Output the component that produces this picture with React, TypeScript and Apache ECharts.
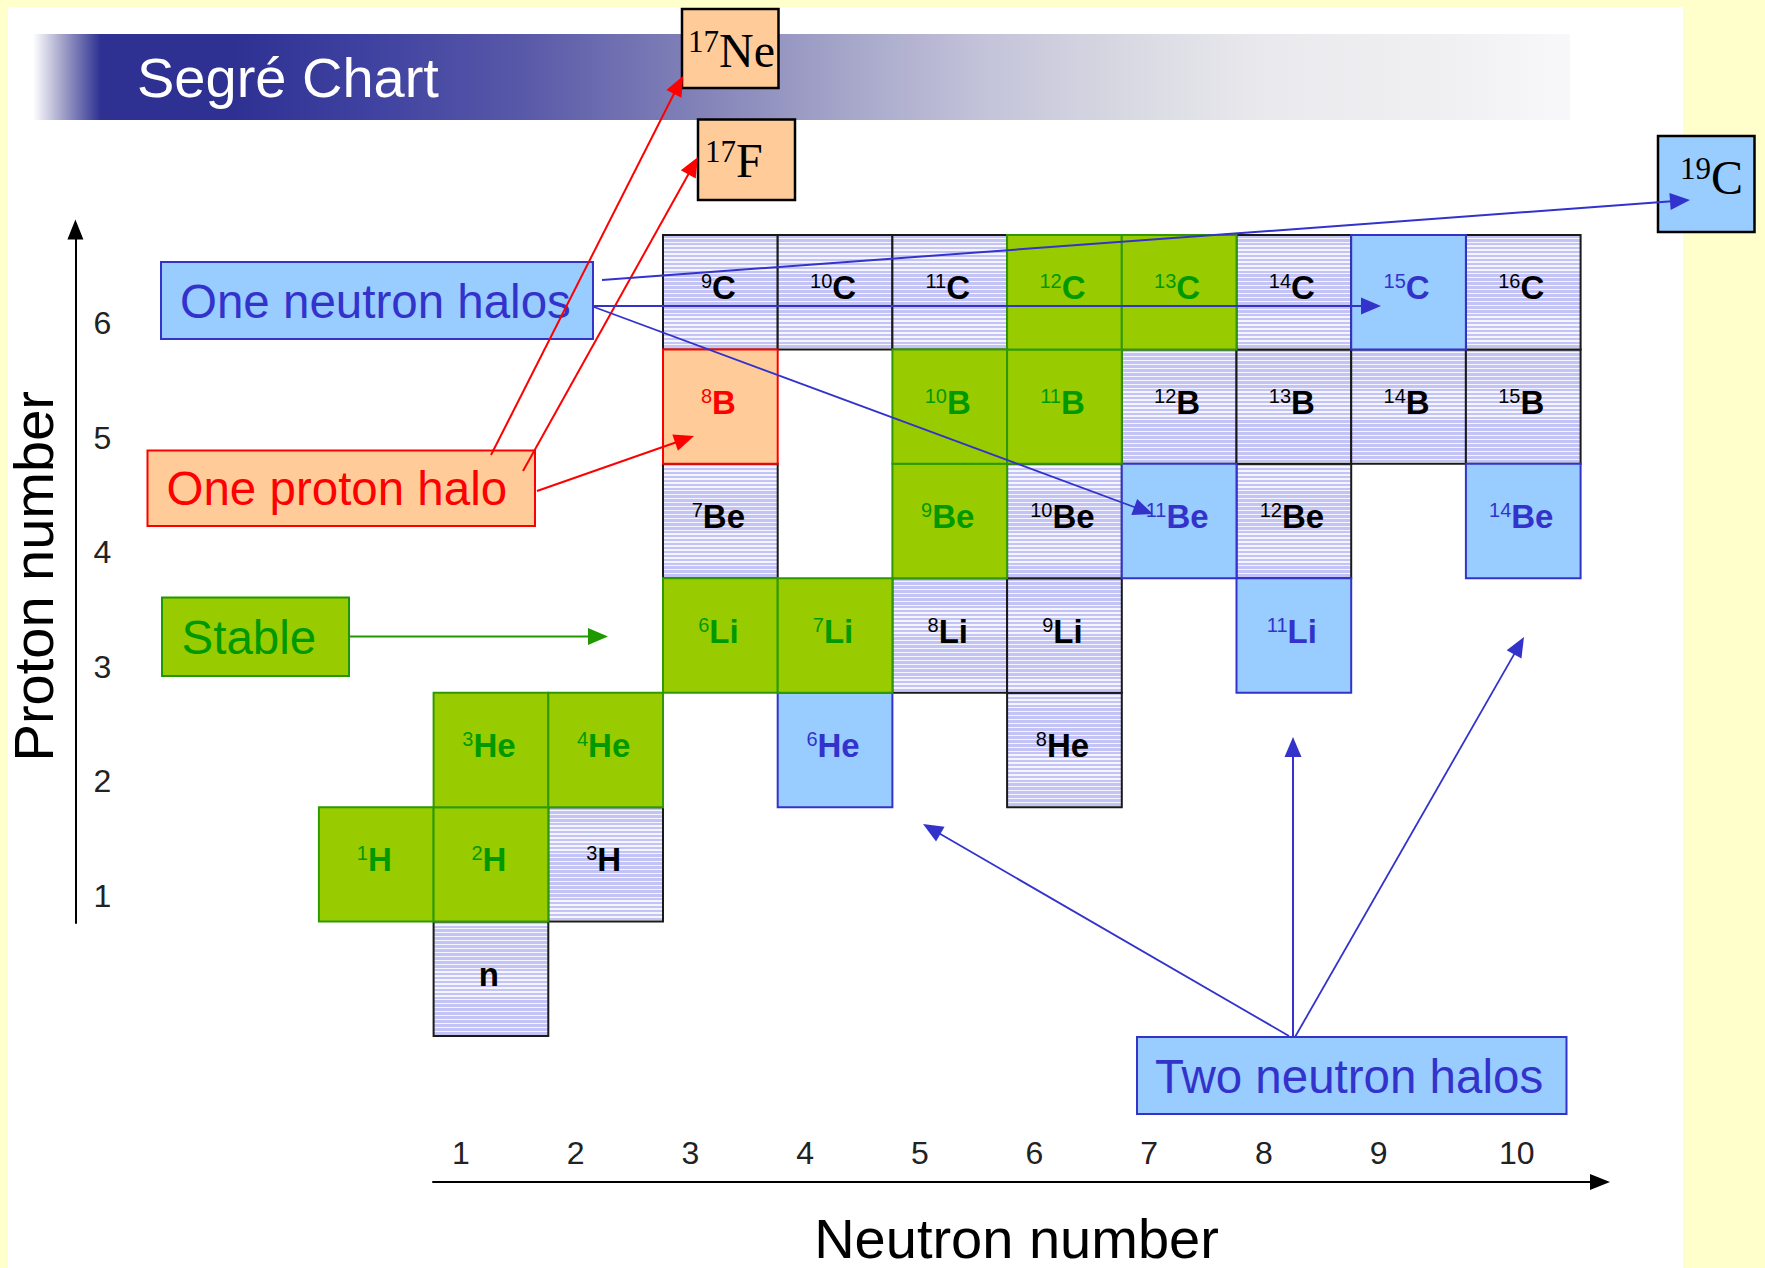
import React, { useEffect, useRef } from "react";
import * as echarts from "echarts";

// ---------- data ----------
const neutronTicks = [1, 2, 3, 4, 5, 6, 7, 8, 9, 10];
const protonTicks = [1, 2, 3, 4, 5, 6];

const nuclideN = [1, 0, 1, 2, 1, 2, 4, 6, 3, 4, 5, 6, 8, 3, 5, 6, 7, 8, 10, 3, 5, 6, 7, 8, 9, 10, 3, 4, 5, 6, 7, 8, 9, 10];
const nuclideZ = [0, 1, 1, 1, 2, 2, 2, 2, 3, 3, 3, 3, 3, 4, 4, 4, 4, 4, 4, 5, 5, 5, 5, 5, 5, 5, 6, 6, 6, 6, 6, 6, 6, 6];
const nuclideA = ["", "1", "2", "3", "3", "4", "6", "8", "6", "7", "8", "9", "11", "7", "9", "10", "11", "12", "14", "8", "10", "11", "12", "13", "14", "15", "9", "10", "11", "12", "13", "14", "15", "16"];
const nuclideSymbol = ["n", "H", "H", "H", "He", "He", "He", "He", "Li", "Li", "Li", "Li", "Li", "Be", "Be", "Be", "Be", "Be", "Be", "B", "B", "B", "B", "B", "B", "B", "C", "C", "C", "C", "C", "C", "C", "C"];
const nuclideKind = [
  "unstable",
  "stable", "stable", "unstable",
  "stable", "stable", "halo2n", "unstable",
  "stable", "stable", "unstable", "unstable", "halo2n",
  "unstable", "stable", "unstable", "halo1n", "unstable", "halo2n",
  "halo1p", "stable", "stable", "unstable", "unstable", "unstable", "unstable",
  "unstable", "unstable", "unstable", "stable", "stable", "unstable", "halo1n", "unstable",
];

// ---------- styles ----------
const FONT = '"Liberation Sans", Arial, Helvetica, sans-serif';
const SERIF = '"Liberation Serif", "Times New Roman", serif';
const LAV = "#C3C3F5";
const STRIPE = "#F5F5FF";

const kindStyle: Record<string, { fill: string; stroke: string; text: string }> = {
  stable: { fill: "#99CC00", stroke: "#2F9A00", text: "#009A00" },
  unstable: { fill: LAV, stroke: "#1A1A1A", text: "#000000" },
  halo1n: { fill: "#99CCFF", stroke: "#3333CC", text: "#3333CC" },
  halo2n: { fill: "#99CCFF", stroke: "#3333CC", text: "#3333CC" },
  halo1p: { fill: "#FFCC99", stroke: "#FF0000", text: "#FF0000" },
};

function hatch(h: number) {
  const k = Math.max(1, Math.round(h / 4));
  const stops: any[] = [];
  for (let i = 0; i < k; i++) {
    const a = i / k;
    const b = (i + 0.65) / k;
    const c = (i + 1) / k;
    stops.push({ offset: a, color: LAV }, { offset: b, color: LAV }, { offset: b, color: STRIPE }, { offset: c, color: STRIPE });
  }
  return new echarts.graphic.LinearGradient(0, 0, 0, 1, stops);
}

function arrow(x1: number, y1: number, x2: number, y2: number, color: string, lw = 2, hl = 20, hw = 17) {
  const dx = x2 - x1;
  const dy = y2 - y1;
  const L = Math.hypot(dx, dy);
  const ux = dx / L;
  const uy = dy / L;
  const bx = x2 - ux * hl;
  const by = y2 - uy * hl;
  const px = -uy;
  const py = ux;
  return [
    { type: "line", z: 70, shape: { x1, y1, x2: bx + ux * 2, y2: by + uy * 2 }, style: { stroke: color, lineWidth: lw } },
    {
      type: "polygon",
      z: 70,
      shape: { points: [[x2, y2], [bx + (px * hw) / 2, by + (py * hw) / 2], [bx - (px * hw) / 2, by - (py * hw) / 2]] },
      style: { fill: color },
    },
  ];
}

function box(x: number, y: number, w: number, h: number, fill: string, stroke: string, lw = 2) {
  return { type: "rect", z: 60, shape: { x, y, width: w, height: h }, style: { fill, stroke, lineWidth: lw } };
}

function boxText(x: number, y: number, text: string, color: string, size = 47.5) {
  return {
    type: "text",
    z: 61,
    x,
    y,
    style: { text, fill: color, fontSize: size, fontFamily: FONT, align: "left", verticalAlign: "middle" },
  };
}

function serifText(x: number, y: number, sup: string, main: string) {
  return {
    type: "text",
    z: 61,
    x,
    y,
    style: {
      text: `{s|${sup}}{m|${main}}`,
      align: "left",
      verticalAlign: "middle",
      rich: {
        s: { fontSize: 31, fontFamily: SERIF, fill: "#000", verticalAlign: "top" },
        m: { fontSize: 48, fontFamily: SERIF, fill: "#000", verticalAlign: "bottom" },
      },
    },
  };
}

export default function App() {
  const ref = useRef<HTMLDivElement>(null);

  useEffect(() => {
    if (!ref.current) return;
    const chart = echarts.init(ref.current, undefined, { renderer: "svg" });

    const cellData = nuclideN.map((n, i) => [n, nuclideZ[i]]);

    const graphic: any[] = [
      { type: "rect", z: -10, shape: { x: 8, y: 7, width: 1675, height: 1270 }, style: { fill: "#FFFFFF" } },
      {
        type: "rect",
        z: -9,
        shape: { x: 33, y: 34, width: 1537, height: 86 },
        style: {
          fill: new echarts.graphic.LinearGradient(0, 0, 1, 0, [
            { offset: 0, color: "#FFFFFF" },
            { offset: 0.018, color: "#A8A8CC" },
            { offset: 0.044, color: "#2E3192" },
            { offset: 0.13, color: "#2E3192" },
            { offset: 0.22, color: "#3F42A0" },
            { offset: 0.317, color: "#5858A8" },
            { offset: 0.44, color: "#8585BA" },
            { offset: 0.53, color: "#A6A6CA" },
            { offset: 0.622, color: "#C4C4DA" },
            { offset: 0.714, color: "#D9D9E3" },
            { offset: 0.805, color: "#EAEAEE" },
            { offset: 0.922, color: "#F0F0F2" },
            { offset: 1, color: "#F8F8FA" },
          ]),
        },
      },
      {
        type: "text",
        z: -8,
        x: 137,
        y: 77.5,
        style: { text: "Segré Chart", fill: "#FFFFFF", fontSize: 56, fontFamily: FONT, align: "left", verticalAlign: "middle" },
      },
      // legend boxes
      box(161, 262, 432, 77, "#99CCFF", "#3333CC"),
      boxText(180, 301, "One neutron halos", "#3333CC"),
      box(147.5, 450.5, 387.5, 75.5, "#FFCC99", "#FF0000"),
      boxText(166.5, 488, "One proton halo", "#FF0000"),
      box(162, 597.5, 187, 78.5, "#99CC00", "#1E9A00"),
      boxText(181.5, 637, "Stable", "#009A00"),
      box(1137, 1037, 429.5, 77, "#99CCFF", "#3333CC"),
      boxText(1155, 1076, "Two neutron halos", "#3333CC"),
      // serif boxes
      box(682, 9, 96.5, 79, "#FFCC99", "#000000", 2.5),
      serifText(688, 50, "17", "Ne"),
      box(698, 119.5, 97, 80.5, "#FFCC99", "#000000", 2.5),
      serifText(705, 160, "17", "F"),
      box(1658, 136, 96.5, 96, "#99CCFF", "#000000", 2.5),
      serifText(1680, 177, "19", "C"),
      // arrows
      ...arrow(491, 455, 683, 76, "#FF0000", 2),
      ...arrow(523, 471, 698, 157, "#FF0000", 2),
      ...arrow(537, 491, 694, 436, "#FF0000", 2),
      ...arrow(602, 280, 1690, 200, "#3333CC", 2),
      ...arrow(593, 306, 1381, 306, "#3333CC", 2),
      ...arrow(594, 307, 1153, 514, "#3333CC", 1.8),
      ...arrow(349, 636.5, 608, 636.5, "#1E9A00", 2),
      ...arrow(1293, 1037, 1293, 737, "#3333CC", 2),
      ...arrow(1295, 1037, 1524, 637, "#3333CC", 1.8),
      ...arrow(1289, 1036, 923, 824, "#3333CC", 1.8),
    ];

    chart.setOption({
      animation: false,
      backgroundColor: "#FFFFCC",
      grid: [
        { left: 318.9, top: 235, width: 1261.7, height: 801 },
        { left: 433, top: 1100, width: 1167, height: 82 },
        { left: 75.4, top: 229.5, width: 20, height: 693.5 },
      ],
      xAxis: [
        { gridIndex: 0, type: "value", min: -0.5, max: 10.5, show: false },
        {
          gridIndex: 1,
          type: "value",
          min: 0.756,
          max: 10.93,
          position: "bottom",
          axisLine: { show: true, onZero: false, lineStyle: { color: "#000", width: 2 }, symbol: ["none", "triangle"], symbolSize: [16, 20] },
          axisTick: { show: false },
          splitLine: { show: false },
          axisLabel: {
            inside: true,
            margin: 13,
            customValues: neutronTicks,
            color: "#222",
            fontSize: 32,
            fontFamily: FONT,
            formatter: (v: number) => (v === 10 ? "{p|10}" : String(v)),
            rich: { p: { padding: [0, 0, 0, 47], fontSize: 32, color: "#222", fontFamily: FONT } },
          },
          name: "Neutron number",
          nameLocation: "middle",
          nameGap: 28,
          nameTextStyle: { fontSize: 56, color: "#000", fontFamily: FONT },
        },
        { gridIndex: 2, type: "value", min: 0, max: 1, show: false },
      ],
      yAxis: [
        { gridIndex: 0, type: "value", min: -0.5, max: 6.5, show: false },
        { gridIndex: 1, type: "value", min: 0, max: 1, show: false },
        {
          gridIndex: 2,
          type: "value",
          min: 0.764,
          max: 6.816,
          position: "left",
          axisLine: { show: true, onZero: false, lineStyle: { color: "#000", width: 2 }, symbol: ["none", "triangle"], symbolSize: [16, 20] },
          axisTick: { show: false },
          splitLine: { show: false },
          axisLabel: { inside: true, margin: 18, customValues: protonTicks, color: "#222", fontSize: 32, fontFamily: FONT },
          name: "Proton number",
          nameLocation: "middle",
          nameGap: 14,
          nameTextStyle: { fontSize: 56, color: "#000", fontFamily: FONT },
        },
      ],
      series: [
        {
          type: "custom",
          xAxisIndex: 0,
          yAxisIndex: 0,
          data: cellData,
          renderItem: (params: any, api: any) => {
            const i = params.dataIndex;
            const n = api.value(0) as number;
            const z = api.value(1) as number;
            const tl = api.coord([n - 0.5, z + 0.5]);
            const br = api.coord([n + 0.5, z - 0.5]);
            const w = br[0] - tl[0];
            const h = br[1] - tl[1];
            const k = nuclideKind[i];
            const st = kindStyle[k];
            const fill = k === "unstable" ? hatch(h) : st.fill;
            const a = nuclideA[i];
            const txt = a ? `{s|${a}}{m|${nuclideSymbol[i]}}` : `{m|${nuclideSymbol[i]}}`;
            return {
              type: "group",
              children: [
                {
                  type: "rect",
                  z2: k === "unstable" ? 1 : 5,
                  shape: { x: tl[0], y: tl[1], width: w, height: h },
                  style: { fill, stroke: st.stroke, lineWidth: 2 },
                },
                {
                  type: "text",
                  z2: 10,
                  x: tl[0] + w / 2 - 2,
                  y: tl[1] + h / 2 - 4.5,
                  style: {
                    text: txt,
                    align: "center",
                    verticalAlign: "middle",
                    rich: {
                      s: { fontSize: 20, fontFamily: FONT, fill: st.text, verticalAlign: "top" },
                      m: { fontSize: 33, fontWeight: "bold", fontFamily: FONT, fill: st.text, verticalAlign: "bottom" },
                    },
                  },
                },
              ],
            };
          },
        },
      ],
      graphic,
    });

    return () => chart.dispose();
  }, []);

  return <div ref={ref} style={{ position: "absolute", left: 0, top: 0, width: 1765, height: 1268 }} />;
}
